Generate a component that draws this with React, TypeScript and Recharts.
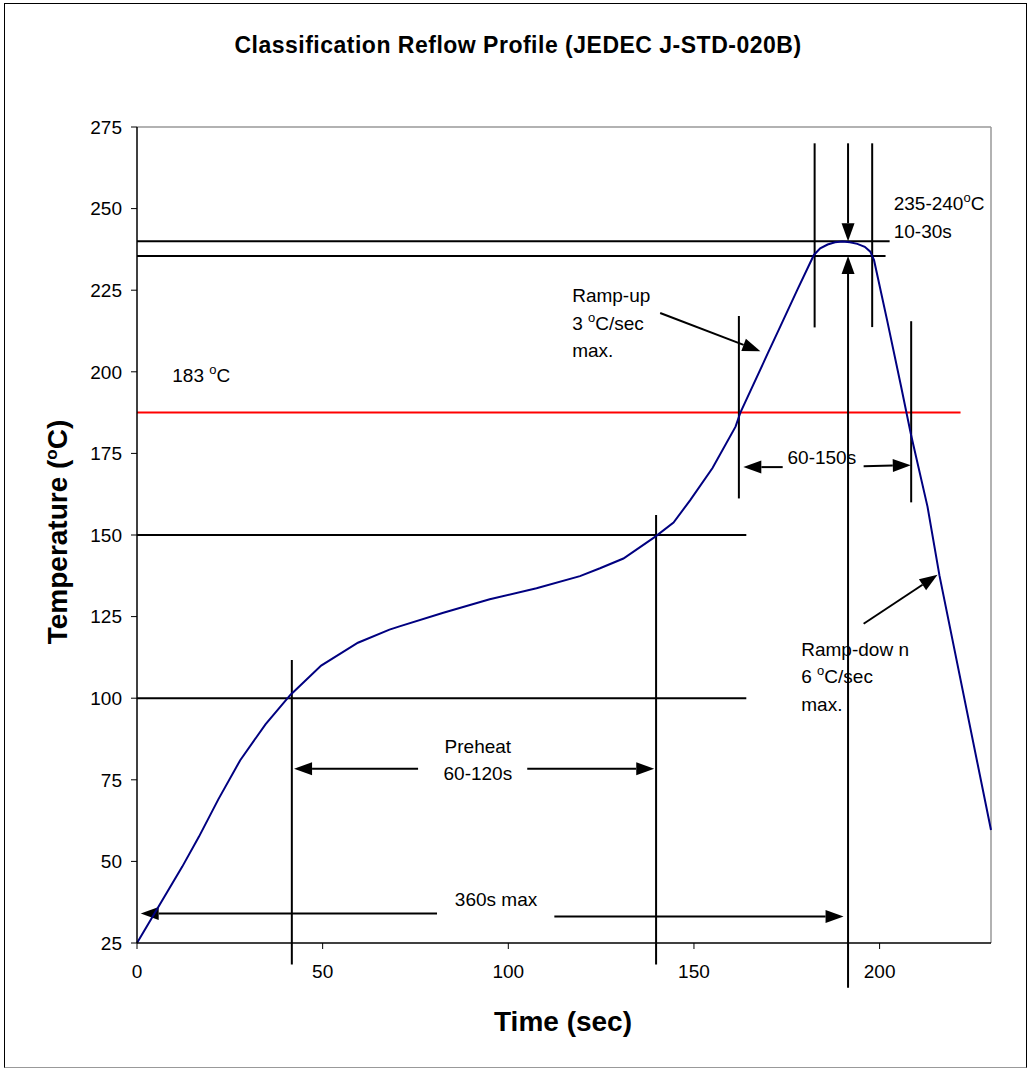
import React from "react";
import { LineChart, Line, XAxis, YAxis, ReferenceLine, ReferenceDot } from "recharts";

// reflow profile: time (s) / temperature (°C)
const time = [0, 12.2, 16.7, 21.9, 27.8, 34.6, 41.3, 49.6, 59.5, 68, 70.7, 82.5, 95, 107.6, 119.3, 124.7, 131, 139.6, 144.5, 149, 155, 161.2, 162.5, 169.9, 173.3, 177.8, 182.3, 184, 186, 188, 190, 192, 194, 196, 197.5, 198.5, 202, 205.8, 208.4, 212.9, 216.1, 230];
const temp = [25, 48.4, 57.6, 69, 81, 92, 101, 110, 117, 121, 122, 126.2, 130.3, 133.7, 137.4, 139.8, 142.8, 149.5, 153.8, 160.7, 170.5, 183.2, 187.5, 205.7, 214, 225, 235.8, 237.8, 239, 239.7, 239.9, 239.7, 239.2, 238.3, 236.8, 234.2, 215.9, 195.4, 181, 158.7, 137.7, 59.6];

const xTicks = [0, 50, 100, 150, 200];
const yTicks = [25, 50, 75, 100, 125, 150, 175, 200, 225, 250, 275];

// horizontal guides: level and where they stop
const guideLevels = [240, 235.5, 150, 100];
const guideEnds = [202.7, 201.6, 164.1, 164.1];
const liquidus = 187.5;
const liquidusEnd = 221.8;

// vertical markers: time, bottom, top
const markTimes = [41.7, 139.8, 162.1, 182.5, 198, 208.5];
const markBottoms = [18.4, 18.4, 161.2, 213.6, 213.7, 160];
const markTops = [111.7, 156.1, 217.1, 270, 270, 215.5];

// arrows: [fromT, fromTemp, toT, toTemp], head at the "to" end
const arrows = [
  [80.8, 34, 1.0, 34],
  [112.4, 33.1, 190.3, 33.1],
  [75.7, 78.4, 42.3, 78.4],
  [105.1, 78.4, 139.3, 78.4],
  [173.9, 170.8, 163.3, 170.8],
  [195.7, 171.1, 208.4, 171.4],
  [140.9, 218, 167.9, 206.3],
  [195.7, 122.8, 215.6, 137.8],
  [191.5, 270, 191.5, 240],
  [191.5, 11.3, 191.5, 235.5],
];

// text notes ("°" becomes a raised small o)
const notes = [
  { t: 9.5, T: 199, anchor: "start", lines: ["183 °C"] },
  { t: 117.2, T: 223.5, anchor: "start", lines: ["Ramp-up", "3 °C/sec", "max."] },
  { t: 203.8, T: 251.6, anchor: "start", lines: ["235-240°C", "10-30s"] },
  { t: 175.2, T: 173.9, anchor: "start", lines: ["60-150s"] },
  { t: 91.8, T: 85.4, anchor: "middle", lines: ["Preheat", "60-120s"] },
  { t: 96.7, T: 38.6, anchor: "middle", lines: ["360s max"] },
  { t: 178.9, T: 115.1, anchor: "start", lines: ["Ramp-dow n", "6 °C/sec", "max."] },
];

const data = time.map((t, i) => ({ t, T: temp[i] }));
const FONT = "'Liberation Sans', Arial, sans-serif";

const lineShape = (head: boolean, color = "#000", width = 2) => (p: any) => {
  const { x1, y1, x2, y2 } = p;
  const dx = x2 - x1;
  const dy = y2 - y1;
  const len = Math.hypot(dx, dy) || 1;
  const ux = dx / len;
  const uy = dy / len;
  const L = 18;
  const W = 6.5;
  const bx = x2 - ux * L;
  const by = y2 - uy * L;
  return (
    <g>
      <line x1={x1} y1={y1} x2={head ? bx : x2} y2={head ? by : y2} stroke={color} strokeWidth={width} />
      {head && (
        <polygon
          points={`${x2},${y2} ${bx - uy * W},${by + ux * W} ${bx + uy * W},${by - ux * W}`}
          fill={color}
        />
      )}
    </g>
  );
};

const renderLine = (s: string, key: number, x: number, dy: number) => {
  const parts = s.split("°");
  return (
    <tspan key={key} x={x} dy={dy}>
      {parts[0]}
      {parts.length > 1 && (
        <>
          <tspan fontSize={13} dy={-6}>o</tspan>
          <tspan dy={6}>{parts[1]}</tspan>
        </>
      )}
    </tspan>
  );
};

const noteShape = (lines: string[], anchor: string) => (p: any) => (
  <text x={p.cx} y={p.cy} textAnchor={anchor} dominantBaseline="central" fontSize={19} fill="#000" fontFamily={FONT}>
    {lines.map((l, i) => renderLine(l, i, p.cx, i === 0 ? 0 : 27.5))}
  </text>
);

export default function App() {
  return (
    <div style={{ position: "absolute", left: 0, top: 0, width: 1030, height: 1070, background: "#fff", fontFamily: FONT }}>
      <div
        style={{
          position: "absolute",
          left: 4,
          top: 3,
          width: 1021,
          height: 1063,
          borderLeft: "1.5px solid #000",
          borderTop: "1.5px solid #000",
          borderRight: "1.5px solid #000",
          borderBottom: "1.5px solid #999",
        }}
      />
      <div
        style={{
          position: "absolute",
          left: 518,
          top: 45,
          transform: "translate(-50%, -50%)",
          fontSize: 23,
          letterSpacing: 0.5,
          fontWeight: "bold",
          whiteSpace: "nowrap",
        }}
      >
        Classification Reflow Profile (JEDEC J-STD-020B)
      </div>
      <div
        style={{
          position: "absolute",
          left: 563,
          top: 1022,
          transform: "translate(-50%, -50%)",
          fontSize: 28,
          fontWeight: "bold",
          whiteSpace: "nowrap",
        }}
      >
        Time (sec)
      </div>
      <div
        style={{
          position: "absolute",
          left: 58,
          top: 532,
          transform: "translate(-50%, -50%) rotate(-90deg)",
          fontSize: 28,
          fontWeight: "bold",
          whiteSpace: "nowrap",
        }}
      >
        Temperature (<sup style={{ fontSize: 17, verticalAlign: "10px", lineHeight: 0 }}>o</sup>C)
      </div>
      <div style={{ position: "absolute", left: 0, top: 0 }}>
        <LineChart width={1030} height={1070} data={data} margin={{ top: 127, right: 39, left: 77, bottom: 67 }}>
          <XAxis
            dataKey="t"
            type="number"
            domain={[0, 230]}
            ticks={xTicks}
            height={60}
            tickSize={6}
            tickMargin={16}
            tick={{ fill: "#000", fontSize: 19 }}
            tickLine={{ stroke: "#000" }}
            axisLine={{ stroke: "#000", strokeWidth: 1.5 }}
          />
          <YAxis
            type="number"
            domain={[25, 275]}
            ticks={yTicks}
            width={60}
            tickSize={6}
            tickMargin={9}
            tick={{ fill: "#000", fontSize: 19 }}
            tickLine={{ stroke: "#000" }}
            axisLine={{ stroke: "#000", strokeWidth: 1.5 }}
          />
          <ReferenceLine y={275} stroke="#999" strokeWidth={1.5} />
          <ReferenceLine x={230} stroke="#999" strokeWidth={1.5} />
          {guideLevels.map((lv, i) => (
            <ReferenceLine
              key={"g" + i}
              segment={[{ x: 0, y: lv }, { x: guideEnds[i], y: lv }]}
              ifOverflow="visible"
              shape={lineShape(false)}
            />
          ))}
          <ReferenceLine
            segment={[{ x: 0, y: liquidus }, { x: liquidusEnd, y: liquidus }]}
            ifOverflow="visible"
            shape={lineShape(false, "#ff0000", 2)}
          />
          {markTimes.map((mt, i) => (
            <ReferenceLine
              key={"v" + i}
              segment={[{ x: mt, y: markBottoms[i] }, { x: mt, y: markTops[i] }]}
              ifOverflow="visible"
              shape={lineShape(false)}
            />
          ))}
          {arrows.map((a, i) => (
            <ReferenceLine
              key={"a" + i}
              segment={[{ x: a[0], y: a[1] }, { x: a[2], y: a[3] }]}
              ifOverflow="visible"
              shape={lineShape(true)}
            />
          ))}
          <Line
            type="linear"
            dataKey="T"
            stroke="#000080"
            strokeWidth={2}
            dot={false}
            isAnimationActive={false}
          />
          {notes.map((n, i) => (
            <ReferenceDot
              key={"n" + i}
              x={n.t}
              y={n.T}
              r={0}
              ifOverflow="visible"
              shape={noteShape(n.lines, n.anchor)}
            />
          ))}
        </LineChart>
      </div>
    </div>
  );
}
